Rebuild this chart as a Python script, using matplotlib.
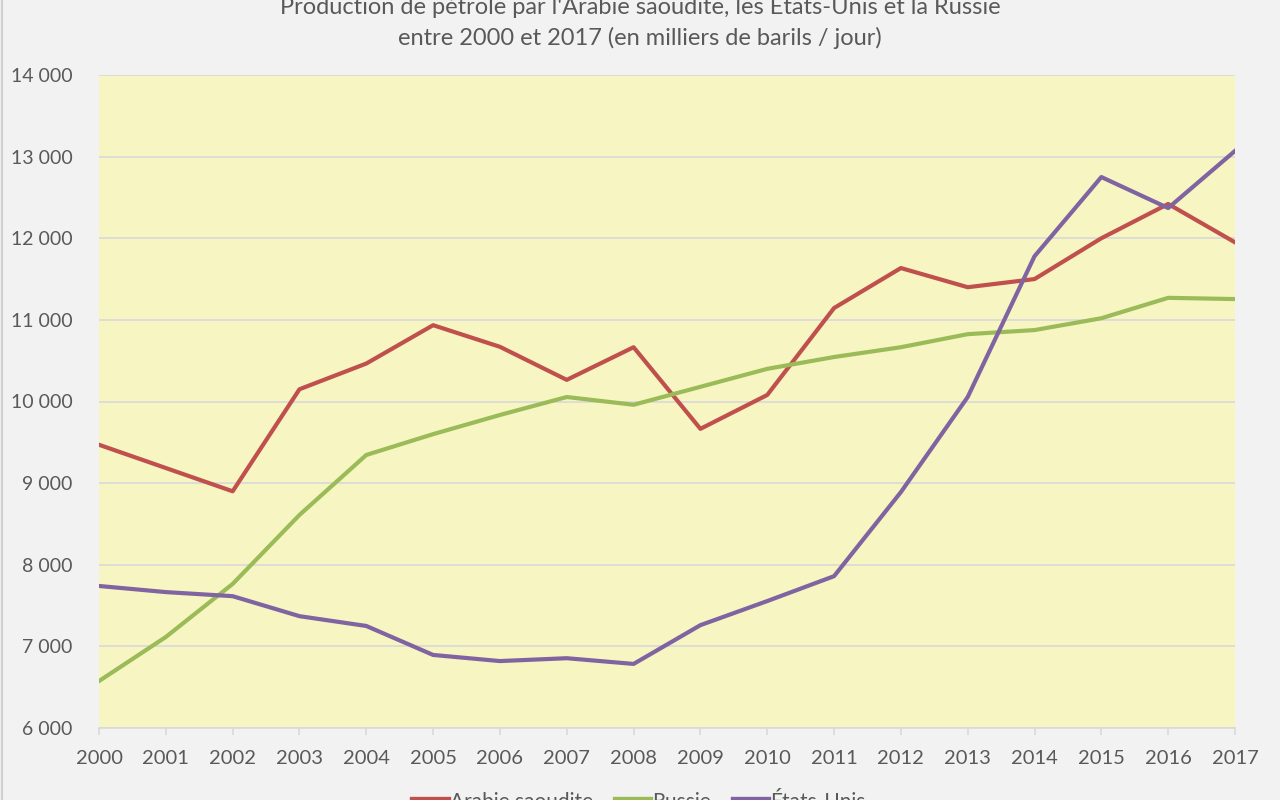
import matplotlib
matplotlib.use("Agg")
import matplotlib.pyplot as plt
from matplotlib.lines import Line2D

years = list(range(2000, 2018))
arabie = [9470, 9185, 8900, 10150, 10465, 10935, 10670, 10265, 10665, 9665,
          10080, 11145, 11635, 11400, 11500, 12000, 12420, 11950]
russie = [6575, 7115, 7765, 8610, 9345, 9600, 9835, 10055, 9960, 10180,
          10400, 10545, 10665, 10825, 10875, 11020, 11270, 11255]
usa = [7740, 7665, 7615, 7370, 7250, 6895, 6820, 6855, 6785, 7260,
       7555, 7860, 8890, 10055, 11780, 12750, 12370, 13070]
labels = ["Arabie saoudite", "Russie", "États-Unis"]
colors = ["#c0504d", "#9bbb59", "#8064a2"]
yticks = list(range(6000, 14001, 1000))

plt.rcParams['font.family'] = ['Lato', 'DejaVu Sans']
txt = "#595959"

fig = plt.figure(figsize=(12.8, 8), dpi=100)
fig.patch.set_facecolor("#f2f2f2")
ax = fig.add_axes([99/1280, 1-728/800, (1235-99)/1280, (728-75)/800])
ax.set_facecolor("#f7f6c2")

for vals, lab, c in zip([arabie, russie, usa], labels, colors):
    ax.plot(years, vals, color=c, lw=3, label=lab, solid_joinstyle="round", zorder=3)

ax.set_xlim(2000, 2017)
ax.set_ylim(6000, 14000)
ax.set_yticks(yticks)
ax.set_yticklabels([f"{v:,}".replace(",", " ") for v in yticks])
ax.set_xticks(years)
ax.set_xticklabels([str(y) for y in years])
ax.grid(axis="y", color="#d9d9d9", lw=1.2, zorder=1)
ax.set_axisbelow(True)
for s in ["left", "right", "top"]:
    ax.spines[s].set_visible(False)
ax.spines["bottom"].set_color("#d9d9d9")
ax.spines["bottom"].set_linewidth(1.2)
ax.tick_params(axis="x", direction="out", length=5, width=1.2, color="#d9d9d9",
               labelsize=14.5, labelcolor=txt, pad=11)
ax.tick_params(axis="y", length=0, labelsize=14, labelcolor=txt, pad=19)

fig.text(0.5, 1-5/800, "Production de pétrole par l'Arabie saoudite, les États-Unis et la Russie",
         ha="center", va="center", fontsize=17, color=txt)
fig.text(0.5, 1-38/800, "entre 2000 et 2017 (en milliers de barils / jour)",
         ha="center", va="center", fontsize=17, color=txt)

handles = [Line2D([], [], color=c, lw=6) for c in colors]
fig.legend(handles, labels, loc="center", bbox_to_anchor=(0.5, 1-802/800), ncol=3,
           frameon=False, fontsize=15, labelcolor=txt, handlelength=1.55,
           handletextpad=0.15, columnspacing=1.15)

fig.add_artist(Line2D([2/1280, 2/1280], [0, 1], color="#d0d0d0", lw=1.5))

fig.savefig("out.png", dpi=100, facecolor=fig.get_facecolor())
